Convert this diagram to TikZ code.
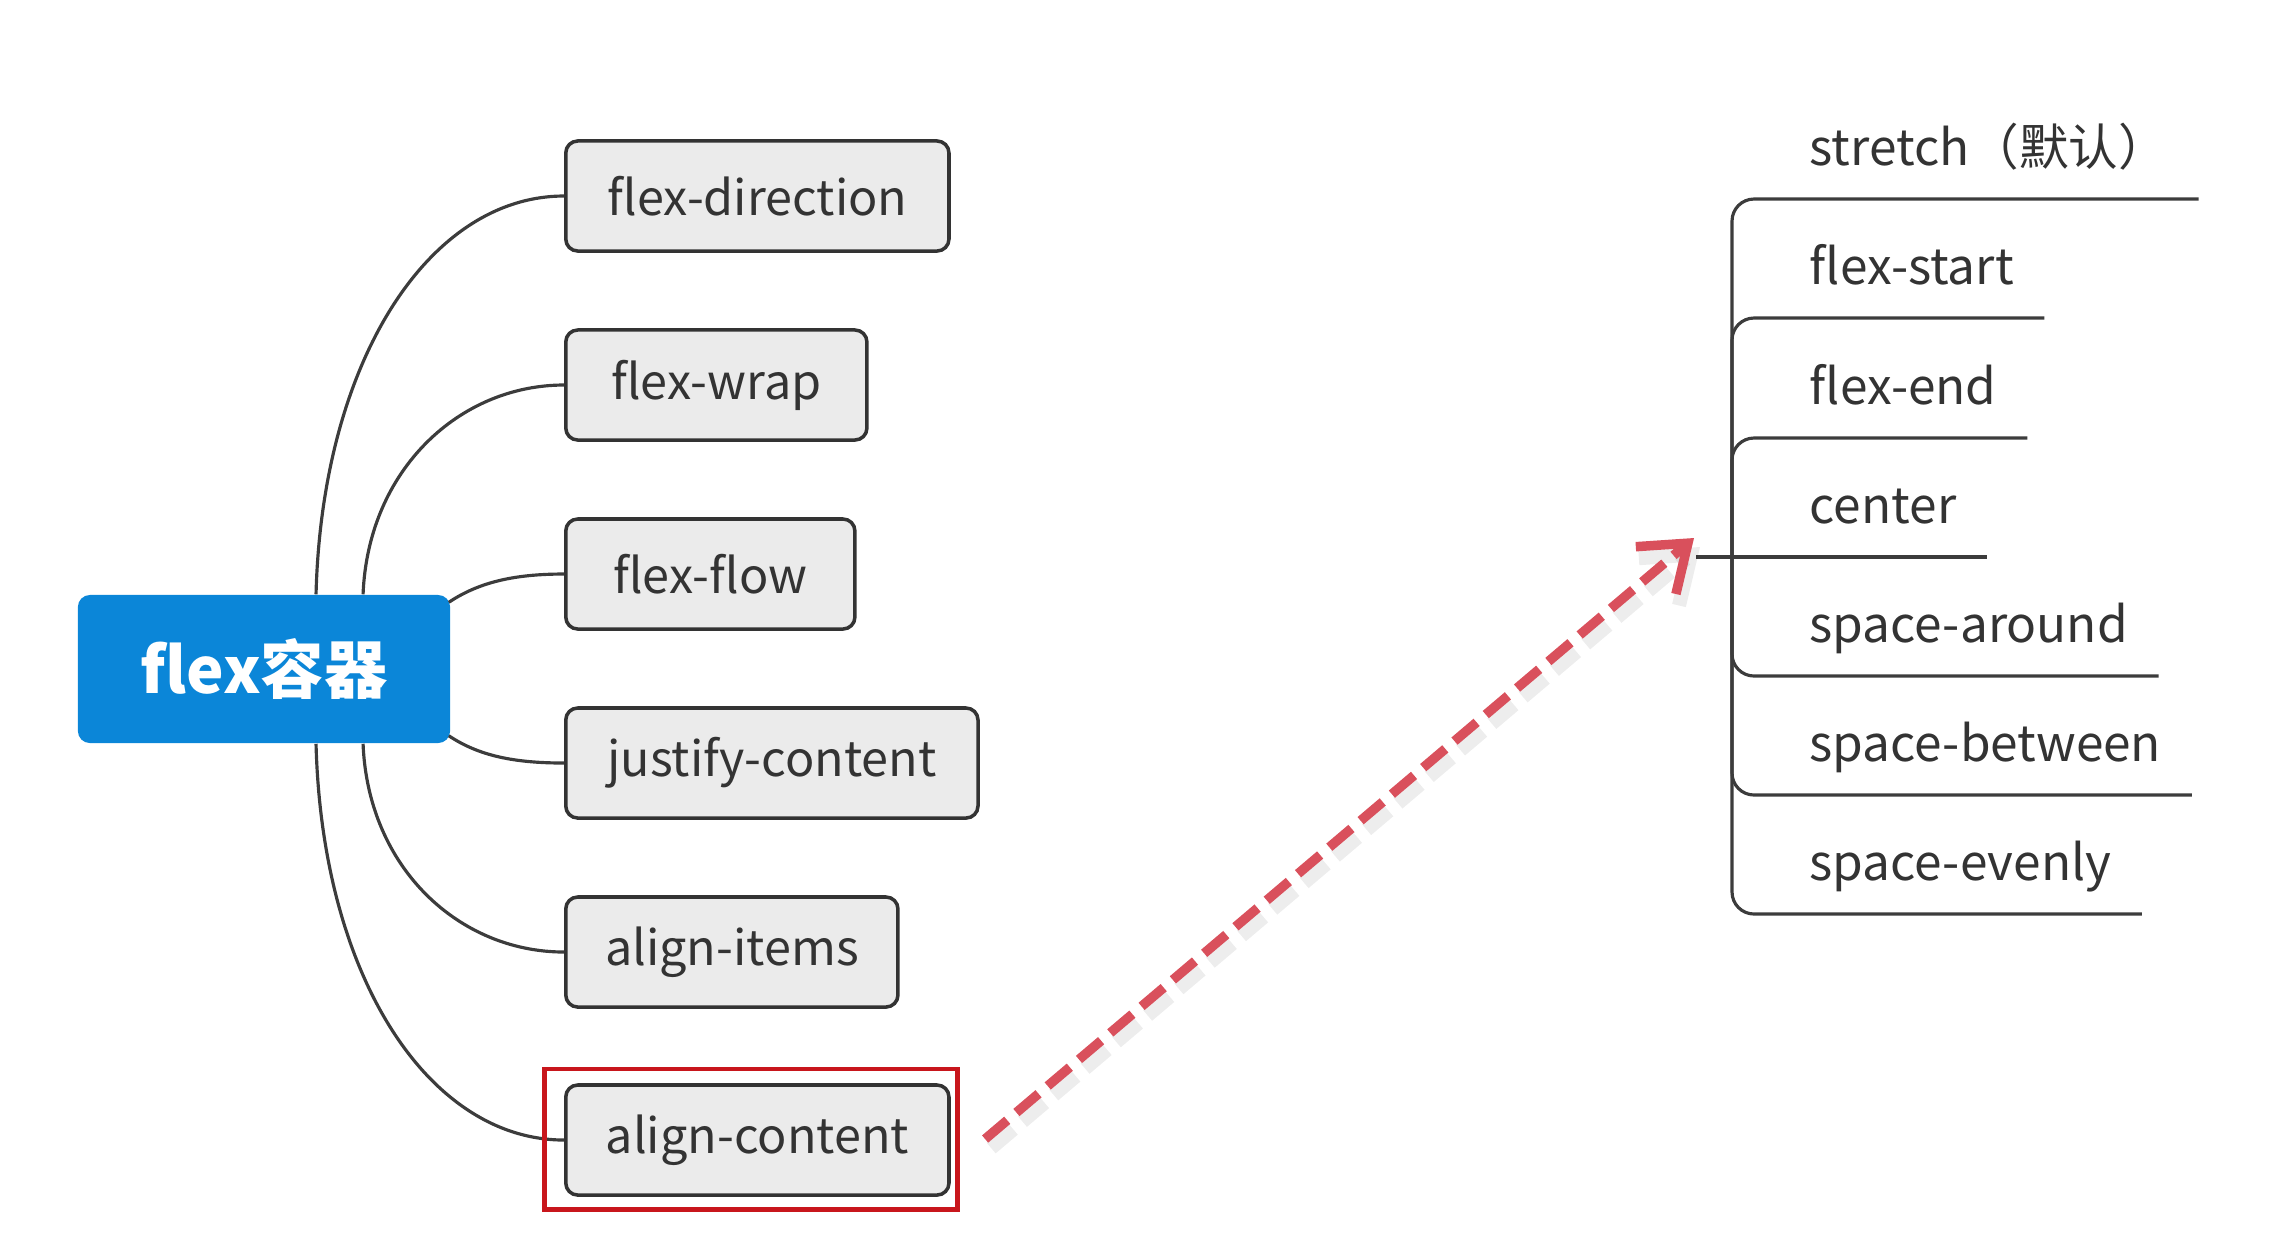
\documentclass[tikz,border=0pt]{standalone}
\usepackage{fontspec}
\setmainfont{Noto Sans CJK SC}
\usetikzlibrary{arrows.meta}
\definecolor{rootblue}{RGB}{11,134,216}
\definecolor{boxgray}{RGB}{235,235,235}
\definecolor{inkgray}{RGB}{51,51,51}
\definecolor{linegray}{RGB}{60,60,60}
\definecolor{framered}{RGB}{200,22,28}
\definecolor{arrowred}{RGB}{217,80,92}
\tikzset{
  root_node/.style = {rectangle, rounded corners=0.12cm, fill=rootblue, text=white,
    font=\fontsize{18}{22}\selectfont\bfseries,
    minimum width=3.72cm, minimum height=1.48cm},% noeud central
  prop_node/.style = {rectangle, rounded corners=0.12cm, draw=inkgray, fill=boxgray,
    line width=1pt, text=inkgray, font=\fontsize{13.8}{17}\selectfont,
    anchor=west, minimum height=1.1cm, inner xsep=0pt},% propriete
  value_node/.style = {anchor=south west, inner xsep=0.3cm, inner ysep=0pt,
    text depth=0.33cm, text=inkgray, font=\fontsize{14.1}{17}\selectfont},% valeur
  branch/.style = {draw=linegray, line width=0.9pt},
  value_line/.style = {branch, rounded corners=0.22cm},
  frame_node/.style = {rectangle, draw=framered, line width=1.4pt,
    minimum width=4.13cm, minimum height=1.4cm},
  jump/.style = {draw=arrowred, line width=2.7pt, dash pattern=on 0.29cm off 0.12cm,
    -{Straight Barb[length=0.42cm,width=0.62cm]},
    preaction={draw=black, opacity=0.07, line width=4pt,
      dash pattern=on 0.29cm off 0.12cm,
      transform canvas={shift={(0.06cm,-0.09cm)}}}}
}

\begin{document}
\begin{tikzpicture}[x=0.01cm, y=-0.01cm]
    \useasboundingbox (0,0) rectangle (2280,1244);
    \node [root_node] (root) at (264,669) {flex容器};
    \foreach \name/\txt/\ypos/\boxw in {fd/flex-direction/196/3.83, fw/flex-wrap/385/3.01,
        ff/flex-flow/574/2.89, jc/justify-content/763/4.12, ai/align-items/952/3.32,
        ac/align-content/1140/3.83}
      \node [prop_node, minimum width=\boxw cm] (\name) at (564,\ypos) {\txt};
    \draw [branch] ([xshift=0.52cm]root.north) .. controls +(6,-235) and +(-134,0) .. (fd.west);
    \draw [branch] ([xshift=0.99cm]root.north) .. controls +(5,-125) and +(-104,0) .. (fw.west);
    \draw [branch] ([shift={(-0.02cm,-0.08cm)}]root.north east) .. controls +(30,-20) and +(-50,0) .. (ff.west);
    \draw [branch] ([shift={(-0.02cm,0.08cm)}]root.south east) .. controls +(30,20) and +(-50,0) .. (jc.west);
    \draw [branch] ([xshift=0.99cm]root.south) .. controls +(5,125) and +(-104,0) .. (ai.west);
    \draw [branch] ([xshift=0.52cm]root.south) .. controls +(6,235) and +(-134,0) .. (ac.west);
    \node [frame_node] (acframe) at (751,1139) {};
    % valeurs de align-content
    \coordinate (hub) at (1696,557);
    \coordinate (vhub) at (1732,557);
    \foreach \name/\txt/\ypos in {st/stretch（默认）/199, fs/flex-start/318, fe/flex-end/438,
        ce/center/557, sa/space-around/676, sb/space-between/795, se/space-evenly/914}
      \node [value_node] (\name) at (1779,\ypos) {\txt};
    \foreach \name in {st,fs,fe,sa,sb,se}
      \draw [value_line] (vhub) |- (\name.south east);
    \draw [branch] (hub) -- (ce.south east);
    \draw [jump] ([xshift=0.25cm]acframe.east) -- ([shift={(-0.02cm,0.19cm)}]hub);
\end{tikzpicture}
\end{document}
